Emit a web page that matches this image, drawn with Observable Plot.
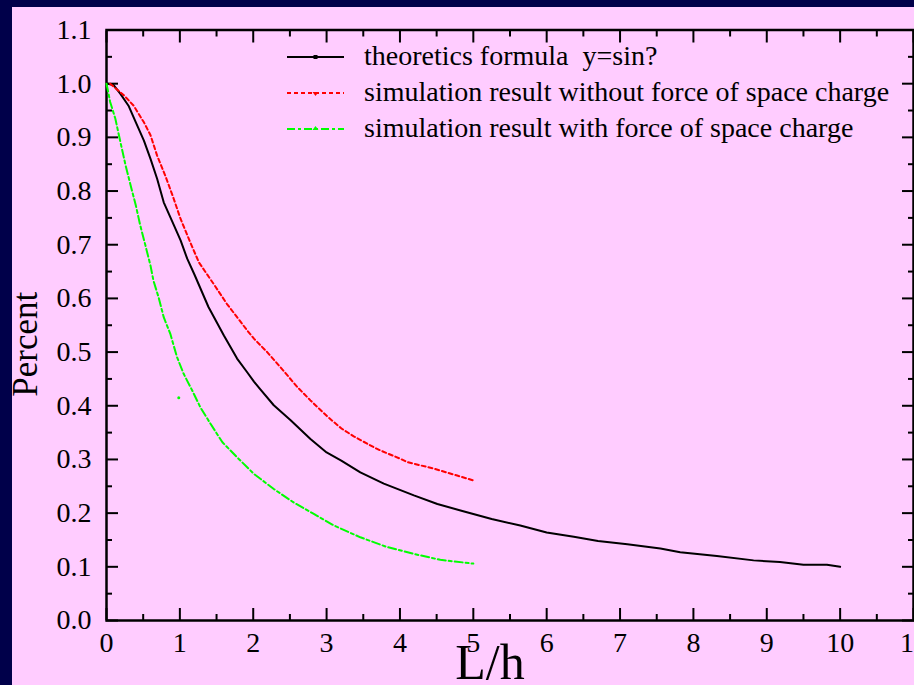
<!DOCTYPE html>
<html><head><meta charset="utf-8">
<script src="https://cdn.jsdelivr.net/npm/d3@7"></script>
<script src="https://cdn.jsdelivr.net/npm/@observablehq/plot@0.6"></script>
<style>
html,body{margin:0;padding:0;background:#00004a;}
#wrap{position:relative;width:914px;height:685px;overflow:hidden;background:#00004a;}
#pink{position:absolute;left:12px;top:7px;right:0;bottom:0;background:#ffccff;}
#chart{position:absolute;left:0;top:0;}
#legend{position:absolute;left:0;top:0;}
</style></head><body>
<div id="wrap"><div id="pink"></div><div id="chart"></div><svg id="legend" width="914" height="685"></svg></div>
<script>
// ---- data ----
const theoX = [0.02,0.1,0.19,0.3,0.4,0.51,0.6,0.69,0.78,0.9,1.01,1.1,1.2,1.39,1.6,1.78,1.92,2.01,2.1,2.28,2.51,2.78,3.0,3.2,3.46,3.78,4.19,4.51,4.85,5.25,5.64,6.0,6.37,6.7,7.1,7.55,7.82,8.32,8.82,9.18,9.5,9.82,10.0];
const theoY = [1.0,0.997,0.981,0.959,0.928,0.894,0.86,0.823,0.779,0.742,0.708,0.674,0.644,0.584,0.531,0.488,0.462,0.445,0.43,0.401,0.373,0.338,0.313,0.298,0.276,0.255,0.233,0.217,0.204,0.189,0.177,0.164,0.156,0.148,0.142,0.134,0.127,0.12,0.112,0.109,0.104,0.104,0.1];
const noChargeX = [0.05,0.24,0.37,0.51,0.6,0.69,0.8,0.9,1.01,1.14,1.26,1.46,1.64,1.78,1.92,2.01,2.19,2.37,2.6,2.78,3.01,3.2,3.37,3.64,3.73,4.01,4.1,4.46,4.78,5.0];
const noChargeY = [1.0,0.978,0.959,0.928,0.904,0.866,0.829,0.792,0.748,0.705,0.667,0.627,0.59,0.565,0.54,0.525,0.5,0.472,0.435,0.41,0.38,0.358,0.343,0.323,0.317,0.301,0.295,0.283,0.27,0.261];
const withChargeX = [0,0.05,0.12,0.19,0.26,0.33,0.4,0.46,0.53,0.6,0.64,0.71,0.78,0.87,0.96,1.05,1.17,1.28,1.42,1.58,1.78,2.01,2.28,2.55,2.82,3.1,3.46,3.82,4.19,4.55,5.0];
const withChargeY = [1.0,0.966,0.935,0.891,0.848,0.81,0.773,0.736,0.699,0.661,0.633,0.602,0.565,0.534,0.491,0.46,0.428,0.397,0.366,0.332,0.304,0.273,0.245,0.22,0.199,0.177,0.155,0.137,0.124,0.113,0.106];
const strayX = [0.985];
const strayY = [0.415];
const xTicks = [0,1,2,3,4,5,6,7,8,9,10,11];
const xMinor = [0.5,1.5,2.5,3.5,4.5,5.5,6.5,7.5,8.5,9.5,10.5];
const yTicks = [0,0.1,0.2,0.3,0.4,0.5,0.6,0.7,0.8,0.9,1.0,1.1];
const yMinor = [0.05,0.15,0.25,0.35,0.45,0.55,0.65,0.75,0.85,0.95,1.05];
const seriesNames = ["theoretics formula  y=sin?","simulation result without force of space charge","simulation result with force of space charge"];
const seriesColors = ["#000000","#ff0000","#00ff00"];
const seriesDash = [null,"4,3","8,3,3,3"];

const toRows = (X,Y) => X.map((x,i)=>({x, y:Y[i]}));
const theo = toRows(theoX, theoY);
const noCharge = toRows(noChargeX, noChargeY);
const withCharge = toRows(withChargeX, withChargeY);
const stray = toRows(strayX, strayY);

const font = "'Liberation Serif','Times New Roman',serif";
const blank = () => "";

const chart = Plot.plot({
  width: 914, height: 685,
  marginLeft: 106, marginRight: 1, marginTop: 29.5, marginBottom: 65,
  style: {background: "transparent", fontFamily: font, color: "black", overflow: "visible"},
  x: {domain: [0, 11]},
  y: {domain: [0, 1.1]},
  marks: [
    // labels
    Plot.axisX({anchor: "bottom", ticks: xTicks, tickSize: 0, tickPadding: 12, tickFormat: d => String(d), fontSize: 28, label: null}),
    Plot.axisY({anchor: "left", ticks: yTicks, tickSize: 0, tickPadding: 15, tickFormat: d => d.toFixed(1), fontSize: 28, label: null}),
    // inward ticks on all four sides
    Plot.axisX({anchor: "bottom", ticks: xTicks, tickSize: -12, strokeWidth: 2, tickFormat: blank, label: null}),
    Plot.axisX({anchor: "bottom", ticks: xMinor, tickSize: -6, strokeWidth: 2, tickFormat: blank, label: null}),
    Plot.axisX({anchor: "top", ticks: xTicks, tickSize: -12, strokeWidth: 2, tickFormat: blank, label: null}),
    Plot.axisX({anchor: "top", ticks: xMinor, tickSize: -6, strokeWidth: 2, tickFormat: blank, label: null}),
    Plot.axisY({anchor: "left", ticks: yTicks, tickSize: -12, strokeWidth: 2, tickFormat: blank, label: null}),
    Plot.axisY({anchor: "left", ticks: yMinor, tickSize: -6, strokeWidth: 2, tickFormat: blank, label: null}),
    Plot.axisY({anchor: "right", ticks: yTicks, tickSize: -12, strokeWidth: 2, tickFormat: blank, label: null}),
    Plot.axisY({anchor: "right", ticks: yMinor, tickSize: -6, strokeWidth: 2, tickFormat: blank, label: null}),
    Plot.frame({stroke: "black", strokeWidth: 2.5}),
    // axis titles
    Plot.text(["Percent"], {text: d => d, frameAnchor: "left", textAnchor: "middle", lineAnchor: "middle", dx: -81, dy: 19, rotate: -90, fontSize: 35, fill: "black"}),
    Plot.text(["L/h"], {text: d => d, frameAnchor: "bottom", textAnchor: "middle", lineAnchor: "bottom", dx: -20, dy: 58, fontSize: 50, fill: "black"}),
    // series
    Plot.line(theo, {x: "x", y: "y", stroke: seriesColors[0], strokeWidth: 2}),
    Plot.line(noCharge, {x: "x", y: "y", stroke: seriesColors[1], strokeWidth: 2, strokeDasharray: seriesDash[1]}),
    Plot.line(withCharge, {x: "x", y: "y", stroke: seriesColors[2], strokeWidth: 2, strokeDasharray: seriesDash[2]}),
    Plot.dot(stray, {x: "x", y: "y", r: 1.5, fill: seriesColors[2], stroke: "none"})
  ]
});
document.getElementById("chart").appendChild(chart);

// legend
const lg = d3.select("#legend");
const markers = ["square","down","up"];
seriesNames.forEach((name, i) => {
  const cy = 57 + i * 36;
  const g = lg.append("g");
  g.append("line").attr("x1", 287).attr("x2", 344).attr("y1", cy).attr("y2", cy)
    .attr("stroke", seriesColors[i]).attr("stroke-width", 2)
    .attr("stroke-dasharray", seriesDash[i] || null);
  const mx = 315.5;
  if (markers[i] === "square") {
    g.append("rect").attr("x", mx - 2).attr("y", cy - 2).attr("width", 4).attr("height", 4).attr("fill", seriesColors[i]);
  } else if (markers[i] === "down") {
    g.append("path").attr("d", `M${mx-3},${cy-1}L${mx+3},${cy-1}L${mx},${cy+3}Z`).attr("fill", seriesColors[i]);
  } else {
    g.append("path").attr("d", `M${mx-3},${cy+1}L${mx+3},${cy+1}L${mx},${cy-3}Z`).attr("fill", seriesColors[i]);
  }
  g.append("text").attr("x", 364).attr("y", cy + 8)
    .attr("font-family", font).attr("font-size", 28).attr("fill", "black")
    .style("white-space", "pre").text(name);
});
</script>
</body></html>
